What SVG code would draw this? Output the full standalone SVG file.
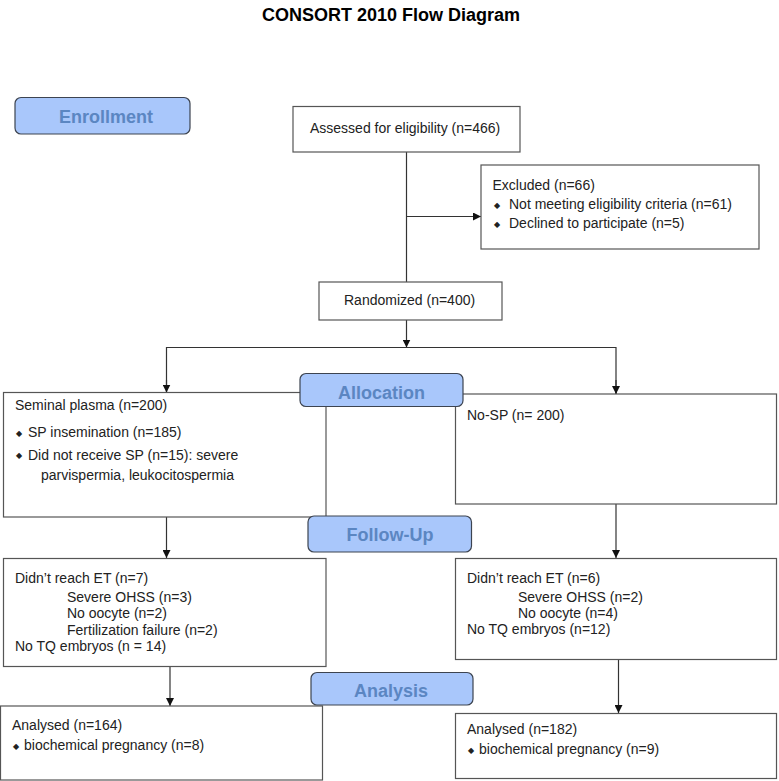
<svg xmlns="http://www.w3.org/2000/svg" width="779" height="781" viewBox="0 0 779 781">
<style>
.box{fill:#fff;stroke:#555;stroke-width:1.2}
.stage{fill:#a9c7fb;stroke:#3d4450;stroke-width:1.2}
.st{font-family:"Liberation Sans",Arial,sans-serif;font-size:18px;font-weight:bold;fill:#5b86c2;text-anchor:middle}
.t{font-family:"Liberation Sans",Arial,sans-serif;font-size:14px;fill:#222}
.b{font-family:"DejaVu Sans",sans-serif;font-size:8px;fill:#222}
.ln{fill:none;stroke:#333;stroke-width:1.2}
.title{font-family:"Liberation Sans",Arial,sans-serif;font-size:18px;font-weight:bold;fill:#000;text-anchor:middle}
</style>
<defs>
<marker id="ah" viewBox="0 0 10 10" refX="10" refY="5" markerWidth="8" markerHeight="8" markerUnits="userSpaceOnUse" orient="auto">
<path d="M0,0 L10,5 L0,10 Z" fill="#111"/>
</marker>
</defs>
<rect width="779" height="781" fill="#fff"/>
<text class="title" x="391" y="21">CONSORT 2010 Flow Diagram</text>

<g id="connectors">
<line class="ln" x1="406.5" y1="152" x2="406.5" y2="282"/>
<line class="ln" x1="406.5" y1="216.5" x2="481" y2="216.5" marker-end="url(#ah)"/>
<line class="ln" x1="406.5" y1="320" x2="406.5" y2="347.5" marker-end="url(#ah)"/>
<polyline class="ln" points="166.5,392.5 166.5,347.5 616,347.5 616,394"/>
<line class="ln" x1="166.5" y1="380" x2="166.5" y2="392.5" marker-end="url(#ah)"/>
<line class="ln" x1="616" y1="380" x2="616" y2="394" marker-end="url(#ah)"/>
<line class="ln" x1="166.5" y1="517" x2="166.5" y2="558" marker-end="url(#ah)"/>
<line class="ln" x1="616" y1="504" x2="616" y2="558" marker-end="url(#ah)"/>
<line class="ln" x1="170" y1="666.5" x2="170" y2="706" marker-end="url(#ah)"/>
<line class="ln" x1="618.5" y1="659" x2="618.5" y2="713" marker-end="url(#ah)"/>
</g>

<g id="enrollment">
<rect class="stage" x="15" y="97.5" width="175" height="36.5" rx="6"/>
<text class="st" x="106" y="122.5">Enrollment</text>
</g>

<g id="assessed">
<rect class="box" x="293" y="106.5" width="227" height="45.5"/>
<text class="t" x="310" y="133">Assessed for eligibility (n=466)</text>
</g>

<g id="excluded">
<rect class="box" x="481" y="165" width="278" height="84"/>
<text class="t" x="492.5" y="190">Excluded (n=66)</text>
<text class="b" x="494" y="208">◆</text>
<text class="t" x="509" y="209">Not meeting eligibility criteria (n=61)</text>
<text class="b" x="494" y="227">◆</text>
<text class="t" x="509" y="228">Declined to participate (n=5)</text>
</g>

<g id="randomized">
<rect class="box" x="319" y="282" width="183" height="38"/>
<text class="t" x="344" y="305">Randomized (n=400)</text>
</g>

<g id="seminal">
<rect class="box" x="3.5" y="392.5" width="322.5" height="124.5"/>
<text class="t" x="15" y="409.5">Seminal plasma (n=200)</text>
<text class="b" x="16" y="436">◆</text>
<text class="t" x="28" y="437">SP insemination (n=185)</text>
<text class="b" x="16" y="458">◆</text>
<text class="t" x="28" y="459.5">Did not receive SP (n=15): severe</text>
<text class="t" x="41" y="479.5">parvispermia, leukocitospermia</text>
</g>

<g id="nosp">
<rect class="box" x="455.5" y="394" width="321" height="110"/>
<text class="t" x="467" y="420">No-SP (n= 200)</text>
</g>

<g id="allocation">
<rect class="stage" x="300" y="373.5" width="163" height="33" rx="6"/>
<text class="st" x="381.5" y="399">Allocation</text>
</g>

<g id="followup-left">
<rect class="box" x="3.5" y="558.5" width="322.5" height="108"/>
<text class="t" x="15" y="583">Didn’t reach ET (n=7)</text>
<text class="t" x="67" y="602">Severe OHSS (n=3)</text>
<text class="t" x="67" y="618">No oocyte (n=2)</text>
<text class="t" x="67" y="634.5">Fertilization failure (n=2)</text>
<text class="t" x="15" y="651">No TQ embryos (n = 14)</text>
</g>

<g id="followup-right">
<rect class="box" x="455.5" y="558.5" width="321" height="101"/>
<text class="t" x="467" y="583">Didn’t reach ET (n=6)</text>
<text class="t" x="518" y="602">Severe OHSS (n=2)</text>
<text class="t" x="518" y="618">No oocyte (n=4)</text>
<text class="t" x="467" y="633.5">No TQ embryos (n=12)</text>
</g>

<g id="followup">
<rect class="stage" x="308" y="516" width="163.5" height="36" rx="6"/>
<text class="st" x="390" y="541">Follow-Up</text>
</g>

<g id="analysis-left">
<rect class="box" x="0.5" y="706" width="322" height="74"/>
<text class="t" x="12" y="730">Analysed (n=164)</text>
<text class="b" x="13" y="749">◆</text>
<text class="t" x="24" y="750">biochemical pregnancy (n=8)</text>
</g>

<g id="analysis-right">
<rect class="box" x="455.5" y="713.5" width="321" height="65"/>
<text class="t" x="467" y="733.5">Analysed (n=182)</text>
<text class="b" x="468" y="752.5">◆</text>
<text class="t" x="479" y="753.5">biochemical pregnancy (n=9)</text>
</g>

<g id="analysis">
<rect class="stage" x="311" y="672.5" width="162" height="32.5" rx="6"/>
<text class="st" x="391" y="697">Analysis</text>
</g>
</svg>
